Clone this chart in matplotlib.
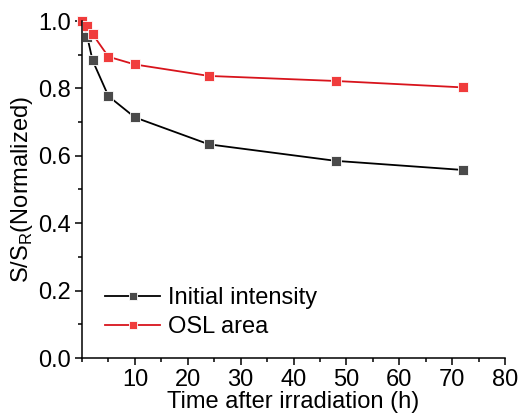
import numpy as np
import matplotlib.pyplot as plt
from matplotlib.ticker import MultipleLocator

plt.rcParams['font.family'] = ['Liberation Sans', 'DejaVu Sans']

# time after irradiation (h)
t = [0, 1, 2, 5, 10, 24, 48, 72]
# normalized signals
initial_intensity = [1.0, 0.953, 0.883, 0.777, 0.714, 0.634, 0.585, 0.558]
osl_area = [1.0, 0.985, 0.961, 0.894, 0.871, 0.837, 0.822, 0.803]

xticks = [10, 20, 30, 40, 50, 60, 70, 80]
yticks = [0.0, 0.2, 0.4, 0.6, 0.8, 1.0]

fig = plt.figure(figsize=(5.18, 4.19), dpi=100)
ax = fig.add_axes([82 / 518, 61 / 419, 423 / 518, 337 / 419])

ax.plot(t, initial_intensity, color='black', lw=1.3, marker='s', ms=7.5,
        mfc='#4a4a4a', mec='white', mew=0.6, label='Initial intensity', clip_on=False)
ax.plot(t, osl_area, color='#d8141c', lw=1.3, marker='s', ms=7.5,
        mfc='#f03c3c', mec='white', mew=0.6, label='OSL area', clip_on=False)

ax.set_xlim(0, 80)
ax.set_ylim(0, 1.0)
ax.set_xticks(xticks)
ax.set_xticklabels([str(x) for x in xticks])
ax.set_yticks(yticks)
ax.set_yticklabels(['%.1f' % y for y in yticks])
ax.xaxis.set_minor_locator(MultipleLocator(5))
ax.yaxis.set_minor_locator(MultipleLocator(0.1))

for s in ['top', 'right']:
    ax.spines[s].set_visible(False)
for s in ['left', 'bottom']:
    ax.spines[s].set_linewidth(1.1)

ax.tick_params(which='major', direction='out', length=5, width=1.1, labelsize=17, pad=3)
ax.tick_params(which='minor', direction='out', length=3, width=1.1)

ax.set_xlabel('Time after irradiation (h)', fontsize=17, labelpad=0)
ax.set_ylabel('S/S$_\\mathregular{R}$(Normalized)', fontsize=17, labelpad=2)

ax.legend(loc='lower left', bbox_to_anchor=(0.005, -0.005), frameon=False, fontsize=17,
          handlelength=2.3, handletextpad=0.35, labelspacing=0.3, markerscale=0.85)

fig.savefig('out.png', dpi=100)
